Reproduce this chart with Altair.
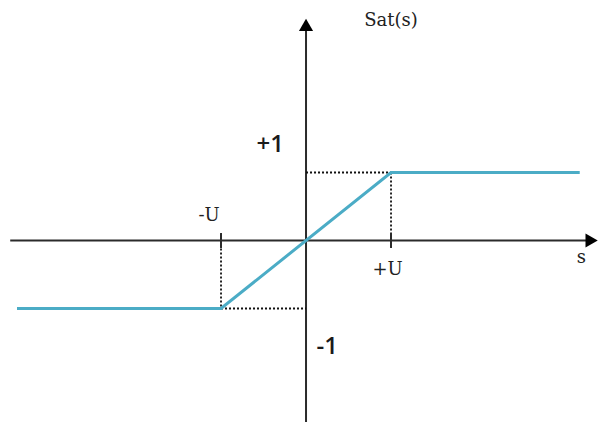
import altair as alt
import pandas as pd

# Saturation function (U = 1, saturation level = ±1)
sat_s = [-3.40, -1.0, 1.0, 3.22]
sat_v = [-1.0, -1.0, 1.0, 1.0]

# Axis extents (data units)
x_axis_s = [-3.48, 3.36]
y_axis_v = [-2.67, 3.17]

# Guide (dotted) segments: s1, v1, s2, v2
guide_s1 = [0.0, 1.0, -1.0, -1.0]
guide_v1 = [1.0, 1.0, 0.0, -1.0]
guide_s2 = [1.0, 1.0, -1.0, 0.0]
guide_v2 = [1.0, 0.0, -1.0, -1.0]

# Tick marks at ±U
tick_s = [-1.0, 1.0]

# Labels
serif_text = ["Sat(s)", "-U", "+U", "s"]
serif_s = [1.0, -1.14, 0.96, 3.24]
serif_v = [3.23, 0.36, -0.43, -0.26]
sans_text = ["+1", "-1"]
sans_s = [-0.42, 0.25]
sans_v = [1.40, -1.57]

X_DOM = [-3.506, 3.435]
Y_DOM = [-2.669, 3.419]

xs = alt.Scale(domain=X_DOM, nice=False, zero=False)
ys = alt.Scale(domain=Y_DOM, nice=False, zero=False)

def X(field="s"):
    return alt.X(f"{field}:Q", scale=xs, axis=None)

def Y(field="v"):
    return alt.Y(f"{field}:Q", scale=ys, axis=None)

AXIS_COLOR = "#2b2b2b"

xaxis = alt.Chart(pd.DataFrame({"s": [x_axis_s[0]], "s2": [x_axis_s[1]], "v": [0.0]})).mark_rule(
    color=AXIS_COLOR, strokeWidth=2).encode(x=X(), x2="s2:Q", y=Y())
yaxis = alt.Chart(pd.DataFrame({"s": [0.0], "v": [y_axis_v[0]], "v2": [y_axis_v[1]]})).mark_rule(
    color=AXIS_COLOR, strokeWidth=2).encode(x=X(), y=Y(), y2="v2:Q")

arrow_r = alt.Chart(pd.DataFrame({"s": [x_axis_s[1]], "v": [0.0]})).mark_point(
    shape="triangle-right", filled=True, color="#000", size=200, opacity=1).encode(x=X(), y=Y())
arrow_u = alt.Chart(pd.DataFrame({"s": [0.0], "v": [y_axis_v[1]]})).mark_point(
    shape="triangle-up", filled=True, color="#000", size=200, opacity=1).encode(x=X(), y=Y())

guides = alt.Chart(pd.DataFrame({"s": guide_s1, "v": guide_v1, "s2": guide_s2, "v2": guide_v2})).mark_rule(
    color="#111", strokeWidth=1.8, strokeDash=[2, 2]).encode(x=X(), y=Y(), x2="s2:Q", y2="v2:Q")

ticks = alt.Chart(pd.DataFrame({"s": tick_s, "v": [0.11, 0.11], "v2": [-0.11, -0.11]})).mark_rule(
    color=AXIS_COLOR, strokeWidth=2).encode(x=X(), y=Y(), y2="v2:Q")

line = alt.Chart(pd.DataFrame({"s": sat_s, "v": sat_v, "o": list(range(len(sat_s)))})).mark_line(
    color="#4BACC6", strokeWidth=3).encode(x=X(), y=Y(), order="o:Q")

serif_labels = alt.Chart(pd.DataFrame({"s": serif_s, "v": serif_v, "t": serif_text})).mark_text(
    font="DejaVu Serif", fontSize=18, color="#222", align="center", baseline="middle").encode(
    x=X(), y=Y(), text="t:N")

sans_labels = alt.Chart(pd.DataFrame({"s": sans_s, "v": sans_v, "t": sans_text})).mark_text(
    font="Open Sans", fontSize=24, fontWeight=600, color="#1a1a1a", align="center", baseline="middle").encode(
    x=X(), y=Y(), text="t:N")

chart = alt.layer(xaxis, yaxis, guides, ticks, line, arrow_r, arrow_u, serif_labels, sans_labels).properties(
    width=590, height=414, padding=0
).configure(background="white", view=alt.ViewConfig(stroke="transparent", strokeWidth=0))

chart.save("out.html", embed_options={"renderer": "svg", "actions": False})
